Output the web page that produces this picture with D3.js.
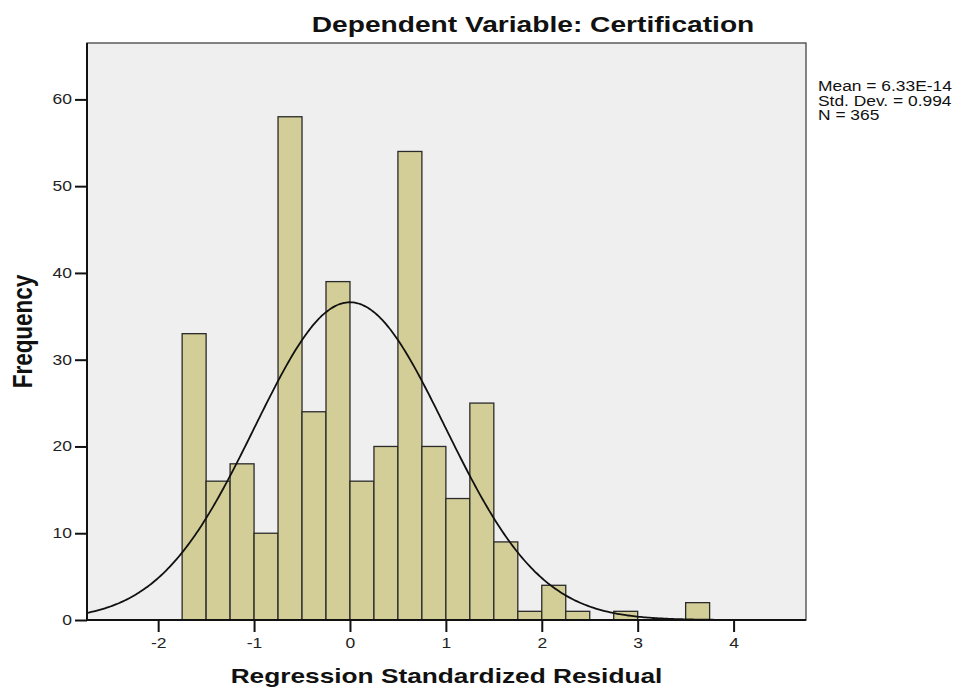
<!DOCTYPE html>
<html><head><meta charset="utf-8">
<script src="https://cdn.jsdelivr.net/npm/d3@7"></script>
<style>body{margin:0;background:#fff}svg{display:block}text{font-family:"Liberation Sans",Arial,sans-serif}</style>
</head><body><svg id="c" width="963" height="689"></svg>
<script>
const binStarts = [-1.75,-1.5,-1.25,-1.0,-0.75,-0.5,-0.25,0,0.25,0.5,0.75,1.0,1.25,1.5,1.75,2.0,2.25,2.5,2.75,3.0,3.25,3.5];
const counts    = [33,16,18,10,58,24,39,16,20,54,20,14,25,9,1,4,1,0,1,0,0,2];
const binWidth = 0.25;
const xTicks = [-2,-1,0,1,2,3,4];
const yTicks = [0,10,20,30,40,50,60];
const statMean = 6.33e-14, statSD = 0.994, statN = 365;
const statLines = ["Mean = 6.33E-14","Std. Dev. = 0.994","N = 365"];

const SX = 1.25; // horizontal stretch of the reference's text
const svg = d3.select("#c");
const L=87,R=806,T=43,B=620;
const x = d3.scaleLinear().domain([-2.742,4.755]).range([L,R]);
const y = d3.scaleLinear().domain([0,66.5]).range([B,T]);

svg.append("rect").attr("x",L).attr("y",T).attr("width",R-L).attr("height",B-T)
  .attr("fill","#efefef").attr("stroke","#444").attr("stroke-width",1.3);

const data = binStarts.map((s,i)=>({s,c:counts[i]})).filter(d=>d.c>0);
svg.append("g").selectAll("rect").data(data).join("rect")
  .attr("x",d=>x(d.s)).attr("width",d=>x(d.s+binWidth)-x(d.s))
  .attr("y",d=>y(d.c)).attr("height",d=>y(0)-y(d.c))
  .attr("fill","#d3ce97").attr("stroke","#2a2a2a").attr("stroke-width",1.3);

// normal curve from the stated statistics
const pts = d3.range(0,401).map(i=>{
  const v = -2.742 + i*(4.755+2.742)/400;
  const f = statN*binWidth/(statSD*Math.sqrt(2*Math.PI))*Math.exp(-0.5*((v-statMean)/statSD)**2);
  return [v,f];
});
svg.append("path").datum(pts)
  .attr("d",d3.line().x(d=>x(d[0])).y(d=>y(d[1])).curve(d3.curveBasis))
  .attr("fill","none").attr("stroke","#111").attr("stroke-width",1.8);

// axes
const fmt = d => String(d);
const ya = svg.append("g").attr("transform",`translate(${L},0)`)
  .call(d3.axisLeft(y).tickValues(yTicks).tickSize(12).tickPadding(3).tickFormat(fmt));
const xa = svg.append("g").attr("transform",`translate(0,${B})`)
  .call(d3.axisBottom(x).tickValues(xTicks).tickSize(12).tickPadding(6).tickFormat(fmt));
[ya,xa].forEach(a=>{
  a.select(".domain").attr("stroke","#111").attr("stroke-width",2);
  a.selectAll(".tick line").attr("stroke","#111").attr("stroke-width",2);
  a.selectAll(".tick text").attr("font-size",14).attr("fill","#222")
   .attr("font-family","Liberation Sans, Arial, sans-serif").attr("transform",`scale(${SX},1)`);
});
ya.selectAll(".tick text").attr("x",-15/SX);
xa.select(".domain").attr("d",`M${L},0H${R}`);
ya.select(".domain").attr("d",`M0,${B}V${T}`);

svg.append("text").attr("transform",`translate(533,32) scale(1.28,1)`).attr("text-anchor","middle")
  .attr("font-size",22).attr("font-weight","bold").attr("fill","#111").text("Dependent Variable: Certification");
svg.append("text").attr("transform",`translate(${(L+R)/2},683) scale(${SX},1)`).attr("text-anchor","middle")
  .attr("font-size",21).attr("font-weight","bold").attr("fill","#111").text("Regression Standardized Residual");
svg.append("text").attr("transform",`translate(32,${(T+B)/2}) scale(${SX},1) rotate(-90)`).attr("text-anchor","middle")
  .attr("font-size",22.5).attr("font-weight","bold").attr("fill","#111").text("Frequency");

svg.append("g").selectAll("text").data(statLines).join("text")
  .attr("transform",(d,i)=>`translate(818,${91+i*14.5}) scale(1.2,1)`)
  .attr("font-size",14.5).attr("fill","#111").text(d=>d);
</script></body></html>
